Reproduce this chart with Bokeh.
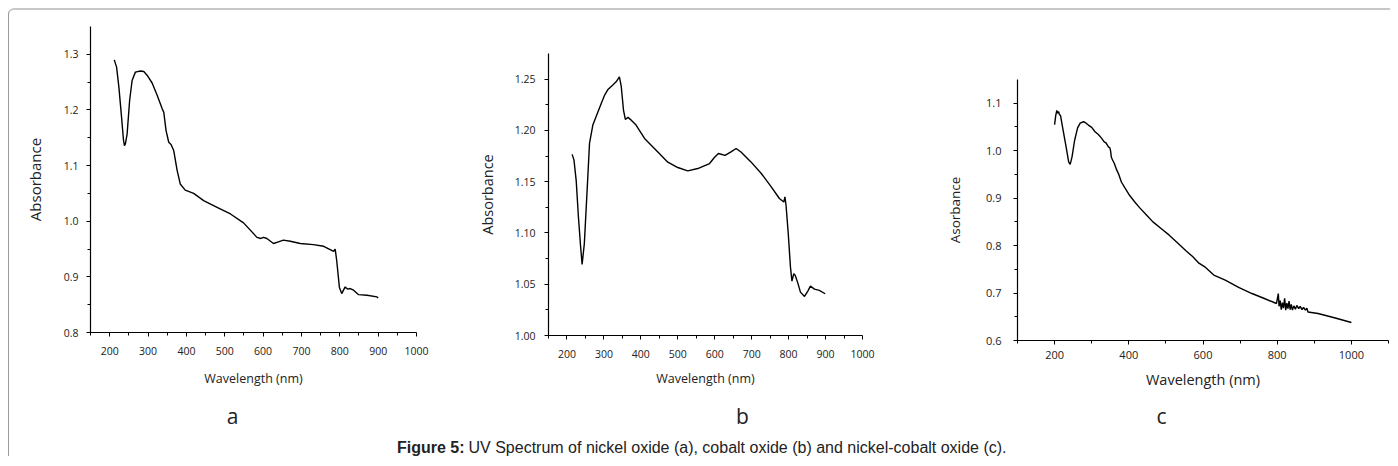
from bokeh.plotting import figure
from bokeh.layouts import row, column
from bokeh.models import Range1d, FixedTicker, NumeralTickFormatter, Spacer
from bokeh.core.properties import value
from bokeh.embed import file_html
from bokeh.resources import INLINE

# ---------------- data ----------------
# (a) nickel oxide
a_wl = [212, 218, 224, 231, 236, 238.5, 241, 245.5, 252, 258.5, 267, 280, 289, 298, 311, 324, 337,
        341, 347, 354, 360, 367, 376, 384, 397, 419, 445, 480, 515, 549, 584, 594, 601, 610, 627,
        640, 653, 671, 697, 731, 758, 784, 788, 792, 799, 805, 814, 820, 827, 836, 849, 871, 897, 900]
a_abs = [1.290, 1.277, 1.241, 1.187, 1.146, 1.136, 1.139, 1.157, 1.217, 1.253, 1.268, 1.270, 1.269,
         1.262, 1.248, 1.226, 1.202, 1.196, 1.163, 1.142, 1.138, 1.127, 1.091, 1.067, 1.056, 1.050,
         1.037, 1.025, 1.013, 0.997, 0.971, 0.969, 0.971, 0.969, 0.960, 0.963, 0.966, 0.964, 0.960,
         0.958, 0.955, 0.946, 0.950, 0.929, 0.881, 0.870, 0.882, 0.878, 0.879, 0.876, 0.868, 0.867,
         0.864, 0.862]

# (b) cobalt oxide
b_wl = [214, 219, 225, 231, 237, 241, 247, 255, 261, 270, 284, 293, 302, 311, 324, 333, 342, 347,
        353, 358, 365, 374, 387, 410, 446, 473, 500, 527, 554, 586, 599, 610, 628, 644, 658, 671,
        698, 726, 753, 775, 787, 790, 793, 799, 805, 809, 814, 818, 825, 832, 843, 852, 859, 870,
        883, 899]
b_abs = [1.1766, 1.171, 1.151, 1.1156, 1.0863, 1.0694, 1.0896, 1.1449, 1.1873, 1.2052, 1.2182,
         1.2264, 1.2345, 1.240, 1.2443, 1.2474, 1.2523, 1.2426, 1.2198, 1.2107, 1.2127, 1.210,
         1.2052, 1.1922, 1.179, 1.169, 1.1638, 1.1605, 1.1628, 1.1677, 1.1736, 1.1775, 1.1756,
         1.179, 1.1824, 1.179, 1.1693, 1.158, 1.1449, 1.1336, 1.1302, 1.1351, 1.127, 1.0994,
         1.0667, 1.053, 1.0603, 1.0586, 1.0511, 1.0423, 1.0381, 1.0433, 1.0482, 1.0452, 1.044,
         1.0407]

# (c) nickel-cobalt oxide
c_wl = [200, 203, 206, 208, 211, 213, 216, 223, 231, 238, 242, 247, 254, 262, 269, 278, 285, 291,
        300, 309, 318, 327, 333, 339, 345, 349, 351, 353, 356, 361, 367, 373, 380, 390, 402, 415,
        429, 447, 465, 487, 509, 531, 554, 572, 589, 607, 629, 660, 696, 732, 767, 798, 803, 805,
        808, 811, 814, 817, 820, 823, 826, 829, 832, 835, 838, 841, 845, 849, 853, 858, 862, 867,
        871, 876, 880, 883, 910, 954, 1000]
c_abs = [1.055, 1.074, 1.085, 1.079, 1.082, 1.076, 1.074, 1.043, 1.008, 0.976, 0.971, 0.987, 1.022,
         1.048, 1.058, 1.061, 1.058, 1.054, 1.049, 1.040, 1.034, 1.026, 1.019, 1.016, 1.008, 1.006,
         0.999, 0.986, 0.981, 0.973, 0.960, 0.950, 0.934, 0.921, 0.906, 0.893, 0.880, 0.865, 0.850,
         0.836, 0.822, 0.806, 0.789, 0.777, 0.763, 0.754, 0.738, 0.727, 0.712, 0.699, 0.688, 0.678,
         0.699, 0.672, 0.684, 0.665, 0.680, 0.668, 0.689, 0.664, 0.679, 0.667, 0.683, 0.665, 0.676,
         0.664, 0.673, 0.666, 0.674, 0.667, 0.672, 0.665, 0.670, 0.664, 0.668, 0.660, 0.657, 0.648,
         0.638]

# tick values
ab_x_ticks = [200, 300, 400, 500, 600, 700, 800, 900, 1000]
ab_x_minor = [150, 250, 350, 450, 550, 650, 750, 850, 950]
c_x_ticks = [200, 400, 600, 800, 1000]
c_x_minor = [100, 300, 500, 700, 900, 1100]
a_y_ticks = [0.8, 0.9, 1.0, 1.1, 1.2, 1.3]
a_y_minor = [0.85, 0.95, 1.05, 1.15, 1.25]
b_y_ticks = [1.00, 1.05, 1.10, 1.15, 1.20, 1.25]
b_y_minor = [1.025, 1.075, 1.125, 1.175, 1.225]
c_y_ticks = [0.6, 0.7, 0.8, 0.9, 1.0, 1.1]
c_y_minor = [0.65, 0.75, 0.85, 0.95, 1.05]

x_label = "Wavelength (nm)"
y_labels = ["Absorbance", "Absorbance", "Asorbance"]
panel_letters = ["a", "b", "c"]
caption_bold = "Figure 5:"
caption_text = "UV Spectrum of nickel oxide (a), cobalt oxide (b) and nickel-cobalt oxide (c)."

FONT = "Open Sans"
MB_TOP = 4
MB_BOTTOM = 60


def panel(x, y, xr, yr, xt, xmt, yt, ymt, yfmt, ylabel, width, frame_h, mbl, mbr,
          tick_fs, xlab_fs, ylab_fs, x_std, y_std, xl_std, yl_std):
    p = figure(width=width, height=MB_TOP + frame_h + MB_BOTTOM,
               x_range=Range1d(*xr), y_range=Range1d(*yr),
               output_backend="svg", toolbar_location=None,
               min_border_left=mbl, min_border_right=mbr, min_border_top=MB_TOP,
               min_border_bottom=MB_BOTTOM)
    p.line(x, y, line_color="black", line_width=1.4)
    p.xgrid.visible = False
    p.ygrid.visible = False
    p.outline_line_color = None
    p.background_fill_color = None
    p.border_fill_color = None
    p.xaxis.ticker = FixedTicker(ticks=xt, minor_ticks=xmt)
    p.yaxis.ticker = FixedTicker(ticks=yt, minor_ticks=ymt)
    p.yaxis.formatter = NumeralTickFormatter(format=yfmt)
    p.xaxis.axis_label = x_label
    p.yaxis.axis_label = ylabel
    for ax, std, lstd, lfs in ((p.xaxis, x_std, xl_std, xlab_fs),
                               (p.yaxis, y_std, yl_std, ylab_fs)):
        ax.axis_line_color = "black"
        ax.axis_line_width = 1.2
        ax.major_tick_line_color = "black"
        ax.minor_tick_line_color = "black"
        ax.major_tick_in = 0
        ax.major_tick_out = 4
        ax.minor_tick_in = 0
        ax.minor_tick_out = 3
        ax.major_label_text_font = FONT
        ax.major_label_text_font_size = tick_fs
        ax.major_label_text_color = "#222222"
        ax.major_label_standoff = std
        ax.axis_label_text_font = FONT
        ax.axis_label_text_font_style = "normal"
        ax.axis_label_text_font_size = lfs
        ax.axis_label_text_color = "#222222"
        ax.axis_label_standoff = lstd
    return p


pa = panel(a_wl, a_abs, (150, 1000), (0.8, 1.35), ab_x_ticks, ab_x_minor, a_y_ticks, a_y_minor,
           "0.0", y_labels[0], 462, 306, 81, 55, "10.5px", "12.5px", "15px", 10, 8, 12, 16)
pb = panel(b_wl, b_abs, (150, 1000), (1.0, 1.275), ab_x_ticks, ab_x_minor, b_y_ticks, b_y_minor,
           "0.00", y_labels[1], 469, 282, 77, 78, "10.5px", "12.5px", "14.5px", 10, 9, 9, 15)
pc = panel(c_wl, c_abs, (100, 1100), (0.6, 1.15), c_x_ticks, c_x_minor, c_y_ticks, c_y_minor,
           "0.0", y_labels[2], 449, 261, 77, 1, "11px", "14.5px", "13.5px", 6, 12, 8, 19)

col_a = column(Spacer(height=16 - MB_TOP), pa)
col_b = column(Spacer(height=43 - MB_TOP), pb)
col_c = column(Spacer(height=69 - MB_TOP), pc)

# caption strip (letters + figure caption)
CAP_W, CAP_H = 1381, 56
cap = figure(width=CAP_W, height=CAP_H, x_range=Range1d(0, CAP_W), y_range=Range1d(0, CAP_H),
             output_backend="svg", toolbar_location=None, x_axis_type=None, y_axis_type=None,
             min_border=0)
cap.xgrid.visible = False
cap.ygrid.visible = False
cap.outline_line_color = None
cap.border_fill_color = None
cap.background_fill_color = None
cap.text(x=[223, 733, 1152], y=[41, 41, 41], text=panel_letters, text_font=value(FONT),
         text_font_size="21px", text_align="center", text_baseline="middle", text_color="#222222")
cap.text(x=[455], y=[9], text=[caption_bold], text_font=value("Liberation Sans"),
         text_font_size="16px", text_font_style="bold", text_align="right",
         text_baseline="middle", text_color="#222222")
cap.text(x=[459], y=[9], text=[caption_text], text_font=value("Liberation Sans"),
         text_font_size="16px", text_align="left", text_baseline="middle", text_color="#222222")

content = column(row(col_a, col_b, col_c), cap,
                 styles={"border-top": "2px solid #c8c8c8", "border-left": "1px solid #9a9a9a",
                         "border-top-left-radius": "6px"})

layout = column(Spacer(height=8), row(Spacer(width=8), content))

open("out.html", "w").write(file_html(layout, INLINE))
